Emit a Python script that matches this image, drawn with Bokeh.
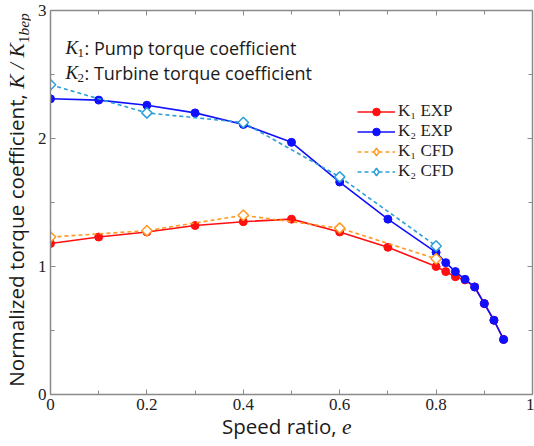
import math
from bokeh.plotting import figure
from bokeh.models import Range1d, LinearAxis, Label, Legend, LegendItem, FixedTicker, Div
from bokeh.layouts import row, column
from bokeh.embed import file_html
from bokeh.resources import INLINE

# ---- data ----
e_exp = [0.0, 0.1, 0.2, 0.3, 0.4, 0.5, 0.6, 0.7, 0.8, 0.82, 0.84, 0.86, 0.88, 0.90, 0.92, 0.94]
k1_exp = [1.18, 1.23, 1.27, 1.32, 1.35, 1.37, 1.27, 1.15, 1.00, 0.96, 0.92, 0.895, 0.84, 0.71, 0.58, 0.43]
k2_exp = [2.31, 2.30, 2.26, 2.20, 2.11, 1.97, 1.66, 1.37, 1.11, 1.03, 0.96, 0.90, 0.84, 0.71, 0.58, 0.43]
e_cfd = [0.0, 0.2, 0.4, 0.6, 0.8]
k1_cfd = [1.23, 1.28, 1.40, 1.30, 1.06]
k2_cfd = [2.42, 2.20, 2.125, 1.70, 1.16]
x_ticks = [0, 0.2, 0.4, 0.6, 0.8, 1]
y_ticks = [0, 1, 2, 3]
x_minor = [0.1, 0.3, 0.5, 0.7, 0.9]
y_minor = [0.5, 1.5, 2.5]

RED = "#ff1010"
BLUE = "#1010ff"
ORANGE = "#ff9a22"
LBLUE = "#2a9fd8"
AXC = "#8a8a8a"
TXT = "#1a1a1a"

# overall page 534 x 446: a 30px column for the y title, a 28px row for the x title
W, H = 534, 446
YT_W, XT_H = 30, 28
PW, PH = W - YT_W, H - XT_H
L, R, T, B = 20, 2, 10, 24          # borders inside the figure
FL = YT_W + L                        # frame left on the page (50)
FB = T + (PH - T - B)                # frame bottom on the page (394)

p = figure(width=PW, height=PH, output_backend="svg", toolbar_location=None,
           x_range=Range1d(0, 1), y_range=Range1d(0, 3),
           min_border_left=L, min_border_right=R, min_border_top=T, min_border_bottom=B,
           background_fill_color="white", border_fill_color="white", margin=0)
p.grid.visible = False
p.outline_line_color = None

def style_axis(ax, ticks, labels=True):
    ax.axis_line_color = AXC
    ax.axis_line_width = 1.5
    ax.major_tick_line_color = AXC
    ax.minor_tick_line_color = AXC
    ax.major_tick_in = 5
    ax.major_tick_out = 0
    ax.minor_tick_in = 4
    ax.minor_tick_out = 0
    ax.major_label_text_font = "Liberation Serif"
    ax.major_label_text_font_size = "17px"
    ax.major_label_text_color = "#222222"
    if labels:
        ax.major_label_standoff = 4
    else:
        ax.major_label_overrides = {t: "" for t in ticks}
        ax.major_label_standoff = 0

p.xaxis.ticker = FixedTicker(ticks=x_ticks, minor_ticks=x_minor)
p.yaxis.ticker = FixedTicker(ticks=y_ticks, minor_ticks=y_minor)
style_axis(p.xaxis[0], x_ticks)
style_axis(p.yaxis[0], y_ticks)

top = LinearAxis(ticker=FixedTicker(ticks=x_ticks, minor_ticks=x_minor))
right = LinearAxis(ticker=FixedTicker(ticks=y_ticks, minor_ticks=y_minor))
style_axis(top, x_ticks, False)
style_axis(right, y_ticks, False)
p.add_layout(top, "above")
p.add_layout(right, "right")

# ---- series ----
r1l = p.line(e_exp, k1_exp, line_color=RED, line_width=1.6)
r1s = p.scatter(e_exp, k1_exp, marker="circle", size=8, fill_color=RED, line_color=RED)
r2l = p.line(e_exp, k2_exp, line_color=BLUE, line_width=1.6)
r2s = p.scatter(e_exp, k2_exp, marker="circle", size=8, fill_color=BLUE, line_color=BLUE)
r3l = p.line(e_cfd, k1_cfd, line_color=ORANGE, line_width=1.6, line_dash="4 3")
r3d = p.scatter(e_cfd, k1_cfd, marker="diamond", size=9, fill_color="white",
                line_color=ORANGE, line_width=1.5)
r3s = p.scatter(e_cfd, k1_cfd, marker="square", angle=math.pi / 4, size=7.4,
                fill_color="white", line_color=ORANGE, line_width=1.5)
r4l = p.line(e_cfd, k2_cfd, line_color=LBLUE, line_width=1.6, line_dash="4 3")
r4d = p.scatter(e_cfd, k2_cfd, marker="diamond", size=9, fill_color="white",
                line_color=LBLUE, line_width=1.5)
r4s = p.scatter(e_cfd, k2_cfd, marker="square", angle=math.pi / 4, size=7.4,
                fill_color="white", line_color=LBLUE, line_width=1.5)

legend = Legend(items=[
    LegendItem(label="K\u2081 EXP", renderers=[r1l, r1s]),
    LegendItem(label="K\u2082 EXP", renderers=[r2l, r2s]),
    LegendItem(label="K\u2081 CFD", renderers=[r3l, r3d]),
    LegendItem(label="K\u2082 CFD", renderers=[r4l, r4d]),
], location=(307, 213))
legend.background_fill_alpha = 0
legend.border_line_alpha = 0
legend.padding = 0
legend.margin = 0
legend.spacing = 0
legend.label_height = 19
legend.glyph_height = 19
legend.glyph_width = 38
legend.label_standoff = 3
legend.label_text_font = "Liberation Serif"
legend.label_text_font_size = "17px"
legend.label_text_line_height = 1.0
legend.label_text_color = "#222222"
p.add_layout(legend)

# ---- in-frame description; page pixels converted to frame-relative screen units ----
def lab(px, py, text, font="Open Sans", size="17px", style="normal"):
    p.add_layout(Label(x=px - FL, y=FB - py, x_units="screen", y_units="screen",
                       text=text, text_font=font, text_font_size=size,
                       text_font_style=style, text_align="left", text_baseline="middle",
                       text_color=TXT))

for i, (sub, desc) in enumerate([("1", ": Pump torque coefficient"),
                                 ("2", ": Turbine torque coefficient")]):
    yy = 47 + 25 * i
    lab(65, yy, "K", font="Liberation Serif", size="19px", style="italic")
    lab(77, yy + 5, sub, font="Liberation Serif", size="13px")
    lab(84, yy, desc, size="18px")

# ---- axis titles as HTML text ----
SERIF = "font-family:'Liberation Serif';"
ytitle = Div(width=YT_W, height=H, margin=0, text=(
    f'<div style="position:relative;width:{YT_W}px;height:{H}px;">'
    '<div style="position:absolute;left:17px;top:200px;'
    'transform:translate(-50%,-50%) rotate(-90deg);white-space:nowrap;'
    f"font-family:'Open Sans';font-size:20.7px;line-height:1;color:{TXT};\">"
    'Normalized torque coefficient, '
    f'<span style="{SERIF}font-style:italic;font-size:21.5px;">K&nbsp;/&nbsp;K</span>'
    f'<span style="{SERIF}font-size:15.5px;position:relative;top:5px;">1<i>bep</i></span>'
    '</div></div>'))
xtitle = Div(width=PW, height=XT_H, margin=0, text=(
    f'<div style="position:relative;width:{PW}px;height:{XT_H}px;">'
    f'<div style="position:absolute;left:{222 - YT_W}px;top:{427 - PH}px;'
    'transform:translateY(-50%);white-space:nowrap;'
    f"font-family:'Open Sans';font-size:20.5px;line-height:1;color:{TXT};\">"
    f'Speed ratio, <i style="{SERIF}font-size:21.5px;">e</i>'
    '</div></div>'))

layout = row(ytitle, column(p, xtitle, spacing=0), spacing=0)

open("out.html", "w").write(file_html(layout, INLINE))
